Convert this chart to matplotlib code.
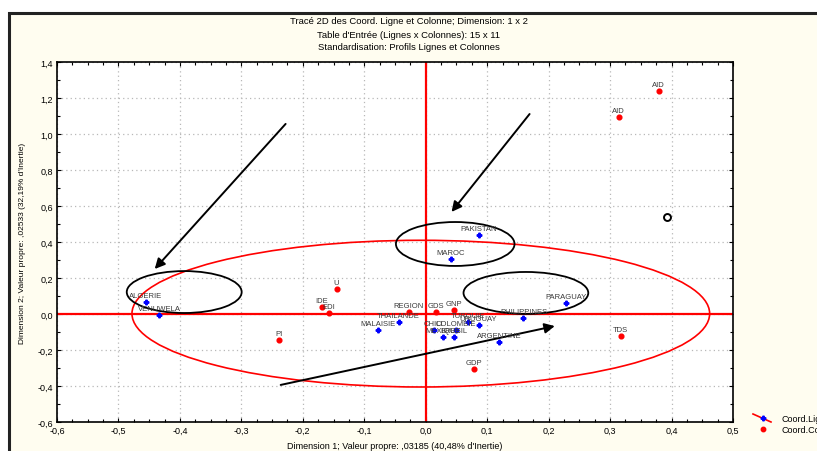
import matplotlib
matplotlib.use("Agg")
import matplotlib.pyplot as plt
from matplotlib.patches import Ellipse, Rectangle
from matplotlib.lines import Line2D
from matplotlib.ticker import MultipleLocator, FuncFormatter

plt.rcParams['font.family'] = ['Liberation Sans', 'DejaVu Sans']

# ---- data: row coordinates (countries) ----
row_labels = ["ALGERIE", "VENUWELA", "MALAISIE", "THAILANDE", "CHILI", "COLOMBIE",
              "MEXIQUE", "BRESIL", "TURQUIE", "URUGUAY", "ARGENTINE", "PHILIPPINES",
              "PARAGUAY", "PAKISTAN", "MAROC"]
row_x = [-0.455, -0.434, -0.078, -0.044, 0.013, 0.049, 0.028, 0.046, 0.068, 0.086,
         0.119, 0.159, 0.229, 0.086, 0.041]
row_y = [0.067, -0.005, -0.089, -0.042, -0.089, -0.089, -0.128, -0.128, -0.044, -0.061,
         -0.156, -0.022, 0.061, 0.439, 0.306]

# ---- data: column coordinates (variables) ----
col_labels = ["AID", "AID", "U", "IDE", "EDI", "PI", "REGION", "GDS", "GNP", "TDS", "GDP"]
col_x = [0.379, 0.314, -0.145, -0.169, -0.158, -0.239, -0.028, 0.016, 0.046, 0.317, 0.078]
col_y = [1.239, 1.094, 0.139, 0.039, 0.006, -0.144, 0.011, 0.011, 0.022, -0.122, -0.306]

title_lines = ["Tracé 2D des Coord. Ligne et Colonne; Dimension: 1 x 2",
               "Table d'Entrée (Lignes x Colonnes): 15 x 11",
               "Standardisation: Profils Lignes et Colonnes"]
xlabel = "Dimension 1; Valeur propre: ,03185 (40,48% d'Inertie)"
ylabel = "Dimension 2; Valeur propre: ,02533 (32,19% d'Inertie)"
legend_labels = ["Coord.Lig.", "Coord.Col."]

cream = "#FFFDF0"
fig = plt.figure(figsize=(8.17, 4.52), dpi=100, facecolor="white")

# outer frame
frame = Rectangle((9 / 817, -0.05), 1.2, 1 - 14 / 452 + 0.05, transform=fig.transFigure,
                  facecolor=cream, edgecolor="#222222", lw=2.2, zorder=0)
fig.add_artist(frame)

ax = fig.add_axes([57 / 817, 29 / 452, (733 - 57) / 817, (423 - 63) / 452])
ax.set_facecolor("white")
ax.set_xlim(-0.6, 0.5)
ax.set_ylim(-0.6, 1.4)

ax.xaxis.set_major_locator(MultipleLocator(0.1))
ax.xaxis.set_minor_locator(MultipleLocator(0.025))
ax.yaxis.set_major_locator(MultipleLocator(0.2))
ax.yaxis.set_minor_locator(MultipleLocator(0.1))
fmt = FuncFormatter(lambda v, p: f"{v:.1f}".replace(".", ",").replace("-0,0", "0,0"))
ax.xaxis.set_major_formatter(fmt)
ax.yaxis.set_major_formatter(fmt)
ax.tick_params(which="both", direction="in", top=True, right=True, labelsize=6.5,
               colors="black", width=0.8)
ax.tick_params(which="major", length=3, pad=3)
ax.tick_params(which="minor", length=2)
for s in ax.spines.values():
    s.set_linewidth(1.2)
    s.set_color("black")

ax.grid(True, which="major", color="#b8b8b8", linestyle=(0, (1, 2.5)), lw=0.9)
ax.set_axisbelow(True)

ax.axhline(0, color="red", lw=1.6, zorder=2)
ax.axvline(0, color="red", lw=1.6, zorder=2)

# large red ellipse
ax.add_patch(Ellipse((-0.008, 0.002), 0.94, 0.815, fill=False, edgecolor="red", lw=1.2, zorder=2))
# black ellipses
for (cx, cy, w, h) in [(-0.393, 0.122, 0.187, 0.233), (0.048, 0.389, 0.193, 0.244),
                       (0.163, 0.117, 0.203, 0.233)]:
    ax.add_patch(Ellipse((cx, cy), w, h, fill=False, edgecolor="black", lw=1.3, zorder=3))

# arrows
for (x0, y0, x1, y1) in [(-0.228, 1.056, -0.441, 0.25), (0.169, 1.111, 0.042, 0.567),
                         (-0.236, -0.394, 0.21, -0.067)]:
    ax.annotate("", xy=(x1, y1), xytext=(x0, y0),
                arrowprops=dict(arrowstyle="-|>", color="black", lw=1.4, mutation_scale=15,
                                shrinkA=0, shrinkB=0), zorder=4)

# open circle
ax.plot([0.392], [0.539], marker="o", ms=5, mfc="white", mec="black", mew=1.4, ls="none", zorder=4)

# points
ax.plot(row_x, row_y, ls="none", marker="P", ms=3.3, color="blue", mec="blue", zorder=5)
ax.plot(col_x, col_y, ls="none", marker="o", ms=3.4, color="red", mec="red", zorder=5)

for lab, x, y in list(zip(row_labels, row_x, row_y)) + list(zip(col_labels, col_x, col_y)):
    ax.annotate(lab, (x, y), xytext=(0, 2.2), textcoords="offset points", ha="center",
                va="bottom", fontsize=5.5, color="#3a3a3a", zorder=6)

ax.set_xlabel(xlabel, fontsize=6.5, labelpad=4)
ax.set_ylabel(ylabel, fontsize=6, labelpad=8)

for i, t in enumerate(title_lines):
    fig.text(0.5, 1 - (22 + 13 * i) / 452, t, ha="center", va="center", fontsize=6.8)

# legend (manual, partly cut off at right as in the reference)
fig.add_artist(Line2D([753 / 817, 771 / 817], [1 - 415 / 452, 1 - 423 / 452], color="red", lw=1.2,
                      transform=fig.transFigure))
fig.add_artist(Line2D([763 / 817], [1 - 419 / 452], marker="P", ms=3.3, color="blue",
                      transform=fig.transFigure))
fig.add_artist(Line2D([763 / 817], [1 - 430 / 452], marker="o", ms=3.2, color="red",
                      transform=fig.transFigure))
fig.text(781 / 817, 1 - 420 / 452, legend_labels[0], fontsize=6.5, va="center")
fig.text(781 / 817, 1 - 431 / 452, legend_labels[1], fontsize=6.5, va="center")

fig.savefig("out.png", dpi=100, facecolor="white")
